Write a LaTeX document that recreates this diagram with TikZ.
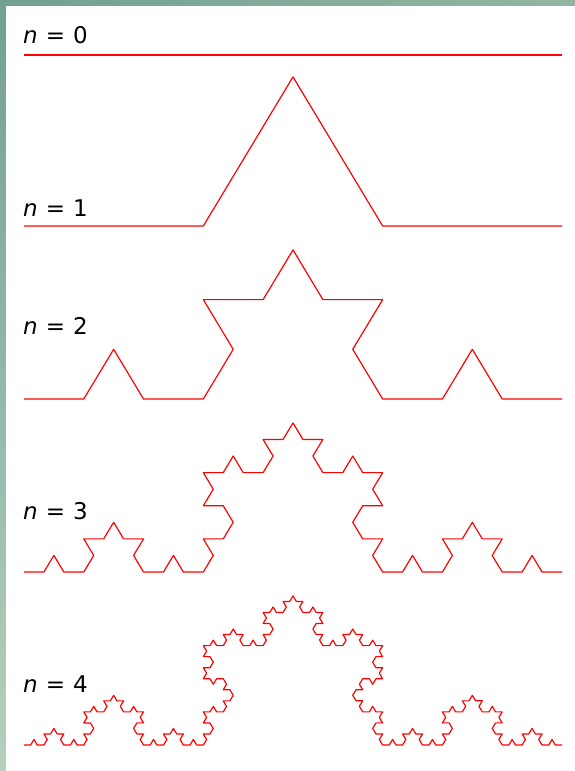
\documentclass[tikz,border=0pt]{standalone}
\usepackage{fontspec}
\setmainfont{DejaVu Sans}
\usetikzlibrary{decorations.fractals}

\definecolor{bandtop}{HTML}{72A091}
\definecolor{bandright}{HTML}{93B6A3}
\definecolor{bandbottom}{HTML}{B6CFBE}

\tikzset{
  koch/.style={color=red, line width=1.2pt, line join=round},
  nlabel/.style={anchor=base west, inner sep=0pt, font=\fontsize{23}{23}\selectfont},
}

\begin{document}
\begin{tikzpicture}[x=1pt, y=-1pt, decoration=Koch snowflake]
  \useasboundingbox (0,0) rectangle (575,771);
  % frame
  \shade[left color=bandtop, right color=bandright] (0,0) rectangle (575,6);
  \shade[top color=bandtop, bottom color=bandbottom] (0,0) rectangle (6,771);
  \fill[white] (6,6) rectangle (575,771);

  % labels
  \node[nlabel] (l0) at (23,43.5) {\textit{n}\hspace{0.35em}=\hspace{0.35em}0};
  \node[nlabel] (l1) at (23,216) {\textit{n}\hspace{0.35em}=\hspace{0.35em}1};
  \node[nlabel] (l2) at (23,334) {\textit{n}\hspace{0.35em}=\hspace{0.35em}2};
  \node[nlabel] (l3) at (23,519) {\textit{n}\hspace{0.35em}=\hspace{0.35em}3};
  \node[nlabel] (l4) at (23,692) {\textit{n}\hspace{0.35em}=\hspace{0.35em}4};

  % curves
  \begin{scope}[transform canvas={shift={(0,55)}, yscale=0.96}]
    \draw[koch] (24,0) -- (562,0);
  \end{scope}
  \begin{scope}[transform canvas={shift={(0,226)}, yscale=0.96}]
    \draw[koch] decorate{ (24,0) -- (562,0) };
  \end{scope}
  \begin{scope}[transform canvas={shift={(0,399)}, yscale=0.96}]
    \draw[koch] decorate{ decorate{ (24,0) -- (562,0) }};
  \end{scope}
  \begin{scope}[transform canvas={shift={(0,572)}, yscale=0.96}]
    \draw[koch] decorate{ decorate{ decorate{ (24,0) -- (562,0) }}};
  \end{scope}
  \begin{scope}[transform canvas={shift={(0,745)}, yscale=0.96}]
    \draw[koch] decorate{ decorate{ decorate{ decorate{ (24,0) -- (562,0) }}}};
  \end{scope}
\end{tikzpicture}
\end{document}
